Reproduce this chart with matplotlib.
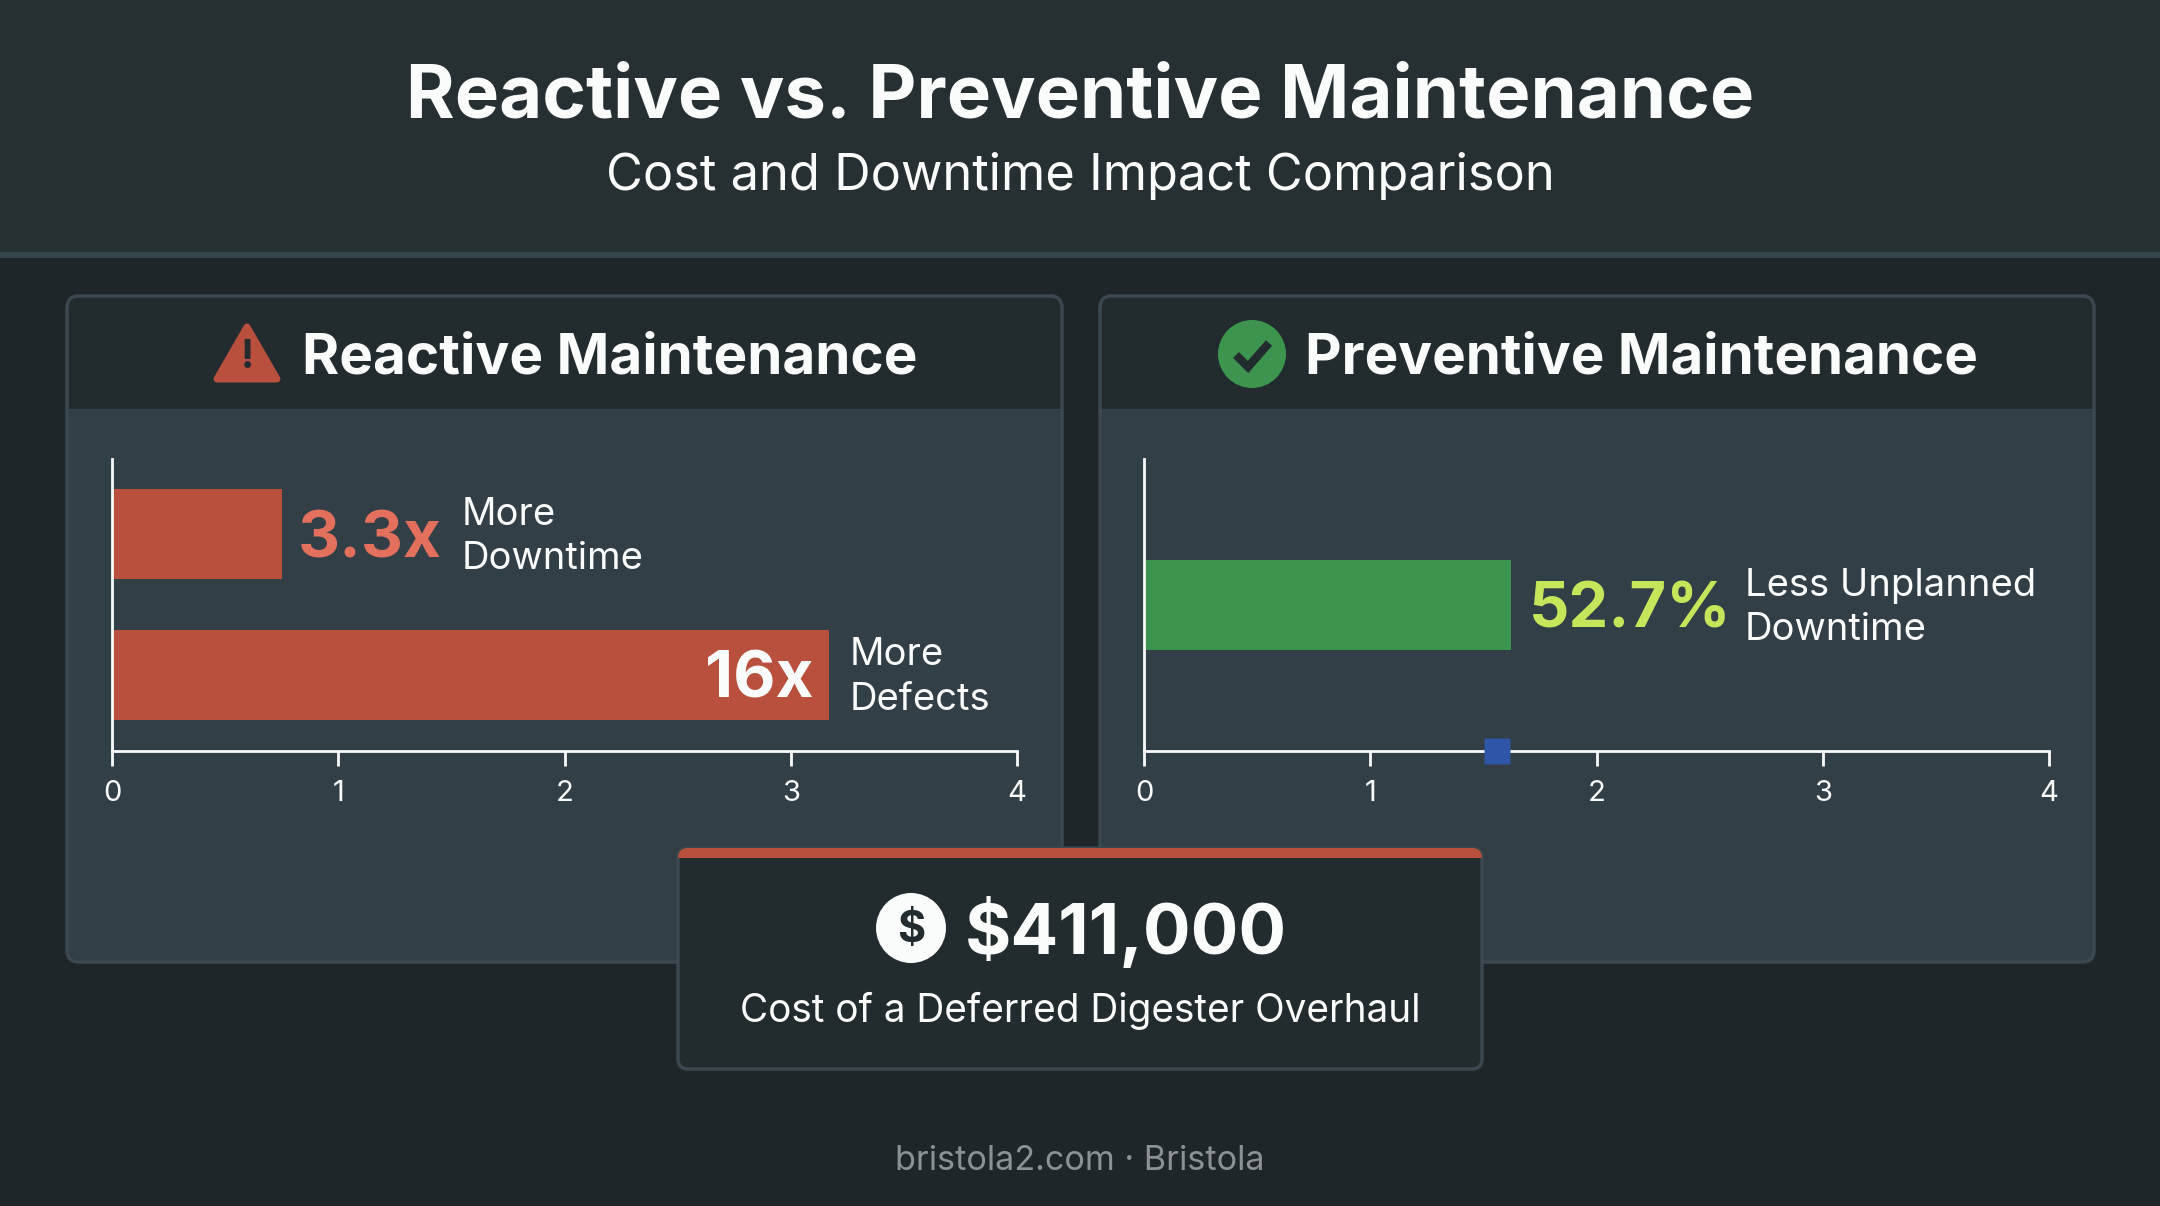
import matplotlib
matplotlib.use("Agg")
import matplotlib.pyplot as plt
from matplotlib.patches import Rectangle, FancyBboxPatch, Polygon, Circle

plt.rcParams['font.family'] = ['Inter', 'DejaVu Sans']

# chart values, as drawn
reactive_values = [0.75, 3.17]
reactive_big = ["3.3x", "16x"]
reactive_notes = ["More\nDowntime", "More\nDefects"]
preventive_values = [1.62]
preventive_big = ["52.7%"]
preventive_notes = ["Less Unplanned\nDowntime"]
marker_x = [1.56]
axis_ticks = [0, 1, 2, 3, 4]

title = "Reactive vs. Preventive Maintenance"
subtitle = "Cost and Downtime Impact Comparison"
left_head = "Reactive Maintenance"
right_head = "Preventive Maintenance"
callout_value = "$411,000"
callout_text = "Cost of a Deferred Digester Overhaul"
footer = "bristola2.com \u00b7 Bristola"

BG = "#1f262a"
BAND = "#263032"
RULE = "#36444b"
BODY = "#323f46"
HEAD = "#222b2e"
EDGE = "#3b4850"
RED = "#b94f3d"
SALMON = "#e36f5d"
GREEN = "#3d944f"
LIME = "#c5e65a"
WHITE = "#fafbfb"
W, H = 2160, 1206

fig = plt.figure(figsize=(W / 100, H / 100), dpi=100, facecolor=BG)


def overlay(zorder):
    # full figure axes that works in reference pixels, y downwards
    ax = fig.add_axes([0, 0, 1, 1], zorder=zorder)
    ax.set_xlim(0, W)
    ax.set_ylim(H, 0)
    ax.axis("off")
    ax.patch.set_alpha(0)
    return ax


def panel(ax, x0, x1, y0, y1, head_y):
    box = FancyBboxPatch((x0, y0), x1 - x0, y1 - y0, boxstyle="round,pad=0,rounding_size=12",
                         fc=BODY, ec="none")
    ax.add_patch(box)
    head = Rectangle((x0, y0), x1 - x0, head_y - y0, fc=HEAD, ec="none")
    ax.add_patch(head)
    head.set_clip_path(box)
    ax.add_patch(FancyBboxPatch((x0, y0), x1 - x0, y1 - y0, boxstyle="round,pad=0,rounding_size=12",
                                fc="none", ec=EDGE, lw=2.5))


def bar_axes(x0, x1, ylim):
    ax = fig.add_axes([x0 / W, 1 - 751 / H, (x1 - x0) / W, (751 - 459) / H], zorder=1)
    ax.patch.set_alpha(0)
    ax.set_xlim(0, 4)
    ax.set_ylim(*ylim)
    ax.set_yticks([])
    ax.set_xticks(axis_ticks)
    ax.tick_params(axis="x", colors=WHITE, length=11, width=2, labelsize=21, pad=10)
    for side in ["top", "right"]:
        ax.spines[side].set_visible(False)
    for side in ["left", "bottom"]:
        ax.spines[side].set_color(WHITE)
        ax.spines[side].set_linewidth(2)
    return ax


def note(ax, text, x, y, dx, color=WHITE, size=27.5, weight="normal", ha="left", dy=-3):
    ax.annotate(text, xy=(x, y), xytext=(dx, dy), textcoords="offset pixels", color=color, fontsize=size,
                fontweight=weight, va="center", ha=ha, linespacing=1.3)


bg = overlay(0)
bg.add_patch(Rectangle((0, 0), W, 252, fc=BAND, ec="none"))
bg.add_patch(Rectangle((0, 252), W, 6, fc=RULE, ec="none"))
panel(bg, 67, 1062, 296, 962, 409)
panel(bg, 1100, 2094, 296, 962, 409)

bg.text(W / 2, 98, title, color=WHITE, fontsize=53.5, fontweight="bold", ha="center", va="center")
bg.text(W / 2, 176, subtitle, color=WHITE, fontsize=36.4, ha="center", va="center")

# panel headings and their icons
bg.text(302, 358, left_head, color=WHITE, fontsize=40.8, fontweight="bold", ha="left", va="center")
bg.text(1305, 358, right_head, color=WHITE, fontsize=40.7, fontweight="bold", ha="left", va="center")
bg.add_patch(Polygon([[247, 327], [277, 379], [217, 379]], closed=True, fc=RED, ec=RED, lw=5, joinstyle="round"))
bg.text(247, 358, "!", color=HEAD, fontsize=28, fontweight="bold", ha="center", va="center")
bg.add_patch(Circle((1252, 354), 34, fc=GREEN, ec="none"))
bg.plot([1236, 1248, 1269], [355, 367, 343], color=HEAD, lw=6, solid_capstyle="butt", solid_joinstyle="miter")

# left chart
ax_left = bar_axes(112, 1017, (1.544, -0.534))
ax_left.barh([0, 1], reactive_values, height=0.64, color=RED, edgecolor="none")
note(ax_left, reactive_big[0], reactive_values[0], 0, 16, SALMON, 47, "bold", dy=-6)
note(ax_left, reactive_notes[0], reactive_values[0], 0, 180)
note(ax_left, reactive_big[1], reactive_values[1], 1, -16, WHITE, 47, "bold", "right", dy=-6)
note(ax_left, reactive_notes[1], reactive_values[1], 1, 20)

# right chart
ax_right = bar_axes(1144, 2049, (1.0, -1.0))
ax_right.barh([0], preventive_values, height=0.615, color=GREEN, edgecolor="none")
note(ax_right, preventive_big[0], preventive_values[0], 0, 18, LIME, 45.5, "bold", dy=-6)
note(ax_right, preventive_notes[0], preventive_values[0], 0, 234)
ax_right.plot(marker_x, [1.0], marker="s", ms=18.5, color="#2f56a6", mec="none", clip_on=False, zorder=5)

# callout over both panels
top = overlay(2)
card = FancyBboxPatch((678, 848), 804, 221, boxstyle="round,pad=0,rounding_size=10",
                      fc=HEAD, ec=EDGE, lw=2.5)
top.add_patch(card)
strip = Rectangle((676, 846), 808, 12, fc=RED, ec="none")
top.add_patch(strip)
strip.set_clip_path(card)
top.add_patch(Circle((911, 928), 35, fc=WHITE, ec="none"))
top.text(911, 930, "$", color=HEAD, fontsize=31, fontweight="bold", ha="center", va="center")
top.text(965, 932, callout_value, color=WHITE, fontsize=51, fontweight="bold", ha="left", va="center")
top.text(W / 2, 1011, callout_text, color=WHITE, fontsize=27.9, ha="center", va="center")
top.text(W / 2, 1161, footer, color="#8c9193", fontsize=24.6, ha="center", va="center")

fig.savefig("out.png", dpi=100, facecolor=BG)
